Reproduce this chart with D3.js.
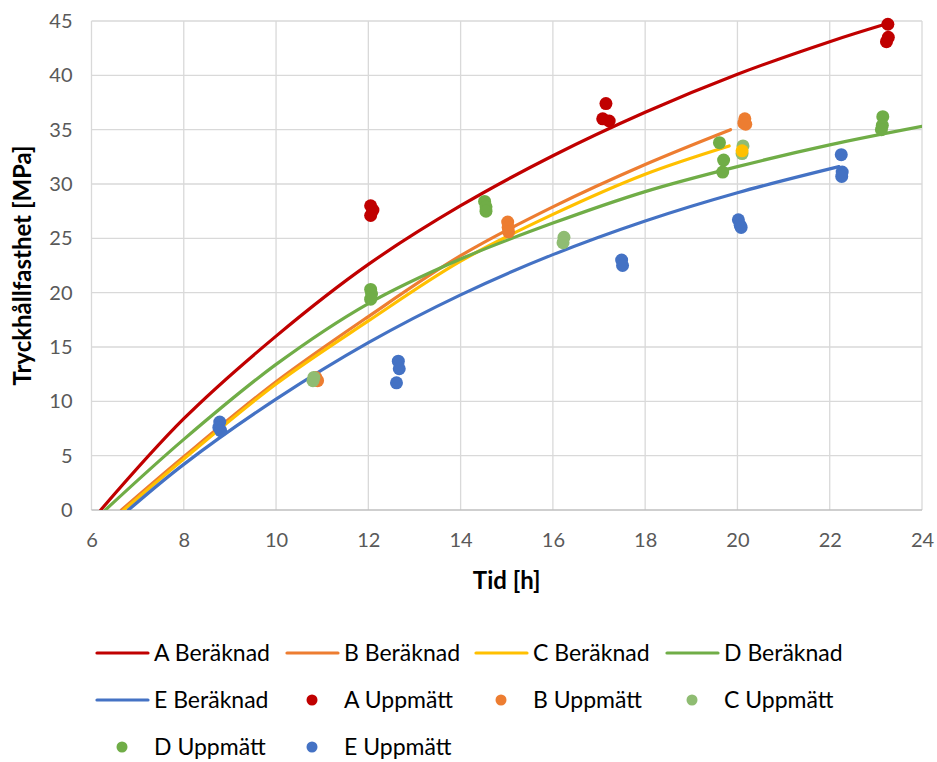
<!DOCTYPE html>
<html>
<head>
<meta charset="utf-8">
<script src="https://cdn.jsdelivr.net/npm/d3@7"></script>
<style>
  html, body { margin: 0; padding: 0; background: #fff; }
  svg { display: block; font-family: Lato, "Open Sans", sans-serif; }
</style>
</head>
<body>
<svg id="chart" width="937" height="762"></svg>
<script>
// Beräknad hållfasthet (tid [h], MPa)
const aBer = [[6.2,0],[8,8.4],[10,16.0],[12,22.6],[14,28.0],[16,32.6],[18,36.6],[20,40.1],[22,43.1],[23.2,44.7]];
const bBer = [[6.65,0],[8,4.9],[10,11.8],[12,17.8],[14,23.4],[16,27.9],[18,31.8],[19.85,35.0]];
const cBer = [[6.7,0],[8,4.7],[10,11.6],[12,17.4],[14,22.9],[16,27.2],[18,30.9],[19.82,33.5]];
const dBer = [[6.3,0],[8,6.5],[10,13.4],[12,19.0],[14,23.1],[16,26.4],[18,29.3],[20,31.6],[22,33.6],[24,35.3]];
const eBer = [[6.8,0],[8,4.2],[10,10.2],[12,15.4],[14,19.8],[16,23.5],[18,26.6],[20,29.2],[22.2,31.6]];

// Uppmätt hållfasthet
const aUpp = [[12.05,28.0],[12.1,27.6],[12.05,27.1],[17.15,37.4],[17.08,36.0],[17.22,35.8],[23.26,44.7],[23.27,43.5],[23.23,43.1]];
const bUpp = [[10.86,12.2],[10.9,11.9],[15.02,26.5],[15.03,26.0],[15.04,25.6],[20.16,36.0],[20.14,35.6],[20.18,35.5]];
const cUpp = [[10.82,12.2],[10.8,11.9],[16.24,25.1],[16.22,24.6],[20.12,33.5],[20.1,32.8]];
const cUppExtra = [[20.1,33.05]];
const dUpp = [[12.05,20.3],[12.07,19.9],[12.05,19.4],[14.52,28.4],[14.55,27.9],[14.55,27.5],[19.61,33.8],[19.7,32.2],[19.68,31.1],[23.15,36.2],[23.14,35.4],[23.12,35.0]];
const eUpp = [[8.78,8.1],[8.76,7.6],[8.8,7.3],[12.65,13.7],[12.67,13.0],[12.61,11.7],[17.49,23.0],[17.51,22.5],[20.02,26.7],[20.06,26.2],[20.08,26.0],[22.25,32.7],[22.27,31.1],[22.26,30.7]];

const xTicks = [6,8,10,12,14,16,18,20,22,24];
const yTicks = [0,5,10,15,20,25,30,35,40,45];

const colors = { A: "#C00000", B: "#ED7D31", C: "#FFC000", D: "#70AD47", E: "#4472C4", Cm: "#8FBC72" };

const lineSeries = [
  { name: "A Beräknad", data: aBer, color: colors.A },
  { name: "B Beräknad", data: bBer, color: colors.B },
  { name: "C Beräknad", data: cBer, color: colors.C },
  { name: "D Beräknad", data: dBer, color: colors.D },
  { name: "E Beräknad", data: eBer, color: colors.E }
];
const pointSeries = [
  { name: "A Uppmätt", data: aUpp, color: colors.A },
  { name: "B Uppmätt", data: bUpp, color: colors.B },
  { name: "C Uppmätt", data: cUpp, color: colors.Cm },
  { name: "D Uppmätt", data: dUpp, color: colors.D },
  { name: "E Uppmätt", data: eUpp, color: colors.E }
];

const svg = d3.select("#chart");
const plot = { left: 91.5, right: 922, top: 21, bottom: 510 };

const x = d3.scaleLinear().domain([6, 24]).range([plot.left, plot.right]);
const y = d3.scaleLinear().domain([0, 45]).range([plot.bottom, plot.top]);

// Grid
const grid = svg.append("g");
grid.selectAll("line.v").data(xTicks).join("line")
  .attr("x1", d => x(d)).attr("x2", d => x(d))
  .attr("y1", plot.top).attr("y2", plot.bottom)
  .attr("stroke", "#d9d9d9").attr("stroke-width", 1.3);
grid.selectAll("line.h").data(yTicks).join("line")
  .attr("x1", plot.left).attr("x2", plot.right)
  .attr("y1", d => y(d)).attr("y2", d => y(d))
  .attr("stroke", d => d === 0 ? "#bfbfbf" : "#d9d9d9").attr("stroke-width", 1.3);

// Axes (labels only)
const xAxis = d3.axisBottom(x).tickValues(xTicks).tickSize(0).tickPadding(23);
const yAxis = d3.axisLeft(y).tickValues(yTicks).tickSize(0).tickPadding(19);
const gx = svg.append("g").attr("transform", `translate(0,${plot.bottom})`).call(xAxis);
const gy = svg.append("g").attr("transform", `translate(${plot.left},0)`).call(yAxis);
[gx, gy].forEach(g => {
  g.select(".domain").remove();
  g.selectAll("text").attr("fill", "#595959").style("font-size", "20px").style("font-family", "Lato, sans-serif");
});

// Axis titles
svg.append("text").attr("x", (plot.left + plot.right) / 2).attr("y", 589)
  .attr("text-anchor", "middle").style("font-size", "24px").style("font-weight", "bold")
  .text("Tid [h]");
svg.append("text").attr("transform", `translate(31,${(plot.top + plot.bottom) / 2}) rotate(-90)`)
  .attr("text-anchor", "middle").style("font-size", "24px").style("font-weight", "bold")
  .text("Tryckhållfasthet [MPa]");

// Clip to plot area
svg.append("clipPath").attr("id", "clip").append("rect")
  .attr("x", plot.left).attr("y", plot.top)
  .attr("width", plot.right - plot.left).attr("height", plot.bottom - plot.top);

const line = d3.line().x(d => x(d[0])).y(d => y(d[1])).curve(d3.curveCatmullRom.alpha(0.5));
const lines = svg.append("g").attr("clip-path", "url(#clip)");
lines.selectAll("path").data(lineSeries).join("path")
  .attr("d", d => line(d.data))
  .attr("fill", "none").attr("stroke", d => d.color).attr("stroke-width", 3.2)
  .attr("stroke-linecap", "round");

const pts = svg.append("g");
pointSeries.forEach(s => {
  pts.append("g").selectAll("circle").data(s.data).join("circle")
    .attr("cx", d => x(d[0])).attr("cy", d => y(d[1])).attr("r", 6.5)
    .attr("fill", s.color);
  if (s.name === "C Uppmätt") {
    pts.append("g").selectAll("circle").data(cUppExtra).join("circle")
      .attr("cx", d => x(d[0])).attr("cy", d => y(d[1])).attr("r", 6.5)
      .attr("fill", colors.C);
  }
});

// Legend
const legendItems = [
  ...lineSeries.map(s => ({ ...s, type: "line" })),
  ...pointSeries.map(s => ({ ...s, type: "point" }))
];
const colX = [97, 287, 476, 667];
const rowY = [653, 700, 747];
const legend = svg.append("g");
legendItems.forEach((it, i) => {
  const cx = colX[i % 4], cy = rowY[Math.floor(i / 4)];
  const g = legend.append("g").attr("transform", `translate(${cx},${cy})`);
  if (it.type === "line") {
    g.append("line").attr("x1", 0).attr("x2", 51).attr("y1", 0).attr("y2", 0)
      .attr("stroke", it.color).attr("stroke-width", 3.2).attr("stroke-linecap", "round");
  } else {
    g.append("circle").attr("cx", 25).attr("cy", 0).attr("r", 5.5).attr("fill", it.color);
  }
  g.append("text").attr("x", 57).attr("y", 0).attr("dy", "0.35em")
    .style("font-size", "23px").attr("fill", "#000").text(it.name);
});
</script>
</body>
</html>
